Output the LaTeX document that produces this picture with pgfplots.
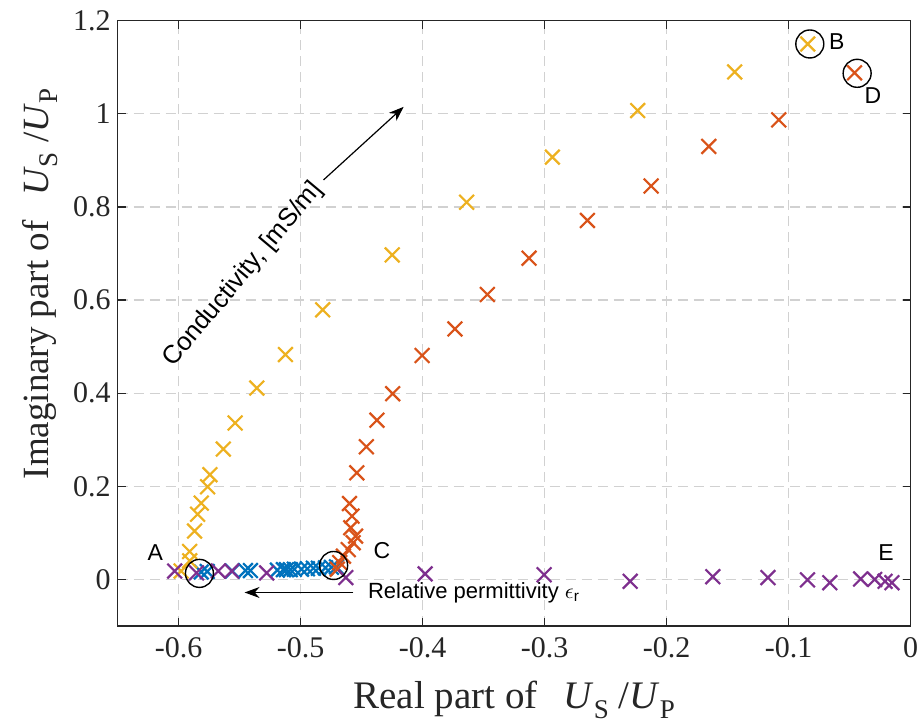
\documentclass[border=0pt]{standalone}
\usepackage{fontspec}
\setmainfont{Liberation Serif}
\newfontfamily\arial{Liberation Sans}
\usepackage{pgfplots}
\pgfplotsset{compat=1.18}
\usetikzlibrary{arrows.meta}
\definecolor{mblue}{rgb}{0,0.447,0.741}
\definecolor{morange}{rgb}{0.850,0.325,0.098}
\definecolor{myellow}{rgb}{0.929,0.694,0.125}
\definecolor{mpurple}{rgb}{0.494,0.184,0.556}
\definecolor{axgray}{rgb}{0.15,0.15,0.15}
\newcommand{\sub}[1]{\raisebox{-0.25em}{\fontsize{13.5}{15}\selectfont #1}}
\begin{document}
\begin{tikzpicture}
\begin{axis}[
  name=ax, scale only axis, width=396.5pt, height=302.65pt,
  xmin=-0.65, xmax=0, ymin=-0.1, ymax=1.2,
  xtick={-0.6,-0.5,-0.4,-0.3,-0.2,-0.1,0},
  ytick={0,0.2,0.4,0.6,0.8,1,1.2},
  grid=major,
  grid style={color=black!18, line width=0.6pt, dash pattern=on 5pt off 3pt},
  tick align=inside, major tick length=4pt,
  axis line style={color=axgray, line width=0.6pt},
  tick style={color=axgray, line width=0.6pt},
  ticklabel style={font=\fontsize{15}{17}\selectfont, text=axgray},
  xticklabel style={yshift=-2pt},
  /pgf/number format/assume math mode=true,
  xlabel={Real part of \ \,\textit{U}\sub{S}\ /\textit{U}\sub{P}},
  ylabel={Imaginary part of \ \,\textit{U}\sub{S}\ /\textit{U}\sub{P}},
  every axis x label/.style={at={(axis description cs:0.5,0)}, yshift=-37pt, anchor=center, font=\fontsize{19.5}{22}\selectfont, text=axgray},
  every axis y label/.style={at={(axis description cs:0,0.565)}, xshift=-38.85pt, rotate=90, anchor=center, font=\fontsize{18.5}{21}\selectfont, text=axgray},
  mark options={solid},
  clip=false,
]
% blue
\addplot[only marks, mark=x, mark size=5.2pt, color=mblue, line width=1.1pt] coordinates {
(-0.5815,0.016) (-0.5766,0.017) (-0.5560,0.018) (-0.5453,0.019) (-0.5412,0.019)
(-0.5191,0.020) (-0.5142,0.021) (-0.5117,0.021) (-0.5085,0.021) (-0.5052,0.022)
(-0.4994,0.022) (-0.4945,0.023) (-0.4896,0.024) (-0.4855,0.024) (-0.4797,0.025)
(-0.4748,0.026) (-0.4707,0.027)};
% orange
\addplot[only marks, mark=x, mark size=5.2pt, color=morange, line width=1.1pt] coordinates {
(-0.4700,0.022) (-0.4680,0.036) (-0.4650,0.050) (-0.4610,0.064) (-0.4570,0.079)
(-0.4550,0.093) (-0.4590,0.111) (-0.4580,0.136) (-0.4600,0.163) (-0.4540,0.229)
(-0.4462,0.285) (-0.4375,0.342) (-0.4246,0.399) (-0.4005,0.481) (-0.3736,0.538)
(-0.3470,0.612) (-0.3128,0.690) (-0.2650,0.771) (-0.2128,0.845) (-0.1655,0.930)
(-0.1082,0.987) (-0.0460,1.088)};
% yellow
\addplot[only marks, mark=x, mark size=5.2pt, color=myellow, line width=1.1pt] coordinates {
(-0.5980,0.018) (-0.5910,0.040) (-0.5910,0.060) (-0.5870,0.104) (-0.5845,0.140)
(-0.5815,0.164) (-0.5763,0.199) (-0.5744,0.225) (-0.5634,0.280) (-0.5538,0.336)
(-0.5360,0.411) (-0.5125,0.483) (-0.4820,0.579) (-0.4250,0.697) (-0.3640,0.810)
(-0.2937,0.907) (-0.2238,1.007) (-0.1443,1.090) (-0.0844,1.150)};
% purple
\addplot[only marks, mark=x, mark size=5.2pt, color=mpurple, line width=1.1pt] coordinates {
(-0.6033,0.018) (-0.5854,0.014) (-0.5675,0.018) (-0.5566,0.018) (-0.5279,0.014)
(-0.4630,0.004) (-0.3980,0.012) (-0.3005,0.010) (-0.2299,-0.004) (-0.1622,0.006)
(-0.1170,0.004) (-0.0846,-0.001) (-0.0663,-0.007) (-0.0410,0.001) (-0.0295,0.000)
(-0.0210,-0.004) (-0.0154,-0.007)};
% circles
\addplot[only marks, mark=o, mark size=7pt, color=black, line width=0.7pt] coordinates {
(-0.5830,0.013) (-0.4730,0.030) (-0.0827,1.150) (-0.0439,1.087)};
% annotations
\node[font=\arial\fontsize{11.5}{13}\selectfont, text=black] at (axis cs:-0.6191,0.058) {A};
\node[font=\arial\fontsize{11.5}{13}\selectfont, text=black] at (axis cs:-0.4335,0.062) {C};
\node[font=\arial\fontsize{11.5}{13}\selectfont, text=black] at (axis cs:-0.0606,1.155) {B};
\node[font=\arial\fontsize{11.5}{13}\selectfont, text=black] at (axis cs:-0.0310,1.039) {D};
\node[font=\arial\fontsize{11.5}{13}\selectfont, text=black] at (axis cs:-0.0203,0.058) {E};
\draw[-{Stealth[length=7.5pt,width=5.5pt]}, line width=0.6pt] (axis cs:-0.4568,-0.028) -- (axis cs:-0.5460,-0.028);
\node[font=\arial\fontsize{11}{13}\selectfont, anchor=west, inner sep=0pt] at (axis cs:-0.4451,-0.028) {Relative permittivity $\epsilon$\textsubscript{r}};
\draw[-{Stealth[length=7.5pt,width=5.5pt]}, line width=0.6pt] (axis cs:-0.4813,0.858) -- (axis cs:-0.4156,1.015);
\node[font=\arial\fontsize{12.8}{14}\selectfont, rotate=50] at (axis cs:-0.547,0.655) {Conductivity, [mS/m]};
\end{axis}
\pgfresetboundingbox
\path[use as bounding box] ([xshift=-58.85pt,yshift=-50.5pt]ax.south west) rectangle ([xshift=5.65pt,yshift=10.35pt]ax.north east);
\end{tikzpicture}
\end{document}
